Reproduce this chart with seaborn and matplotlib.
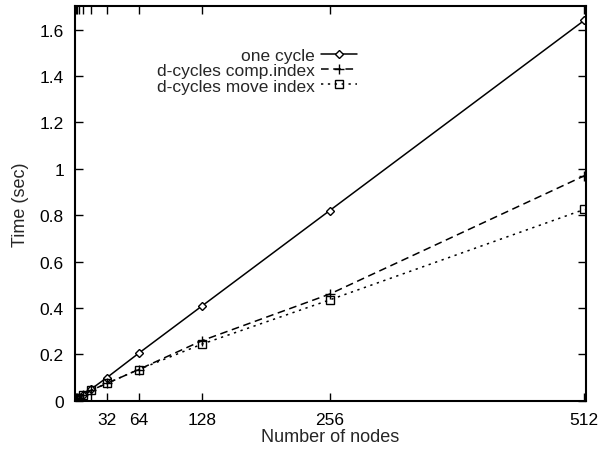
import matplotlib
matplotlib.use("Agg")
import matplotlib.pyplot as plt
import seaborn as sns
import pandas as pd

nodes = [1, 2, 4, 8, 16, 32, 64, 128, 256, 512]
one_cycle = [0.004, 0.007, 0.013, 0.026, 0.05, 0.10, 0.205, 0.41, 0.82, 1.64]
comp_index = [0.004, 0.007, 0.012, 0.024, 0.045, 0.075, 0.135, 0.26, 0.46, 0.97]
move_index = [0.004, 0.007, 0.012, 0.024, 0.045, 0.075, 0.135, 0.245, 0.435, 0.825]
series_names = ["one cycle", "d-cycles comp.index", "d-cycles move index"]
x_tick_labels = ["", "", "", "", "", "32", "64", "128", "256", "512"]
y_ticks = [0, 0.2, 0.4, 0.6, 0.8, 1.0, 1.2, 1.4, 1.6]
y_tick_labels = ["0", "0.2", "0.4", "0.6", "0.8", "1", "1.2", "1.4", "1.6"]

df = pd.DataFrame({
    "nodes": nodes * 3,
    "time": one_cycle + comp_index + move_index,
    "series": [series_names[0]] * len(nodes) + [series_names[1]] * len(nodes) + [series_names[2]] * len(nodes),
})

sns.set_style("ticks")
plt.rcParams["font.family"] = ["Liberation Sans", "DejaVu Sans"]

fig = plt.figure(figsize=(6.1, 4.52), dpi=100)
ax = fig.add_axes([0.123, 0.111, 0.838, 0.874])

styles = {
    series_names[0]: dict(ls="-", marker="D", ms=4.0, mfc="white"),
    series_names[1]: dict(ls=(0, (5, 3)), marker="+", ms=7, mfc="black"),
    series_names[2]: dict(ls=(0, (1.5, 3)), marker="s", ms=6, mfc="none"),
}
for name in series_names:
    sub = df[df["series"] == name]
    st = styles[name]
    sns.lineplot(data=sub, x="nodes", y="time", ax=ax, color="black", lw=1.1,
                 linestyle=st["ls"], marker=st["marker"], markersize=st["ms"],
                 markerfacecolor=st["mfc"], markeredgecolor="black",
                 markeredgewidth=1.0, label=name)

ax.set_xlim(0, 514)
ax.set_ylim(0, 1.703)
ax.set_xticks(nodes)
ax.set_xticklabels(x_tick_labels)
ax.set_yticks(y_ticks)
ax.set_yticklabels(y_tick_labels)
ax.tick_params(direction="in", length=6, width=1.0, top=True, right=True,
               labelsize=12.5, colors="black", pad=8)
for s in ax.spines.values():
    s.set_linewidth(1.5)
    s.set_color("black")
ax.set_xlabel("Number of nodes", fontsize=13, labelpad=1)
ax.set_ylabel("Time (sec)", fontsize=13, labelpad=8)

leg = ax.legend(loc="upper right", bbox_to_anchor=(0.552, 0.893), frameon=False,
                markerfirst=False, fontsize=12.5, handlelength=2.1,
                labelspacing=0.0, handletextpad=0.35, borderaxespad=0,
                borderpad=0)

fig.savefig("out.png", dpi=100)
